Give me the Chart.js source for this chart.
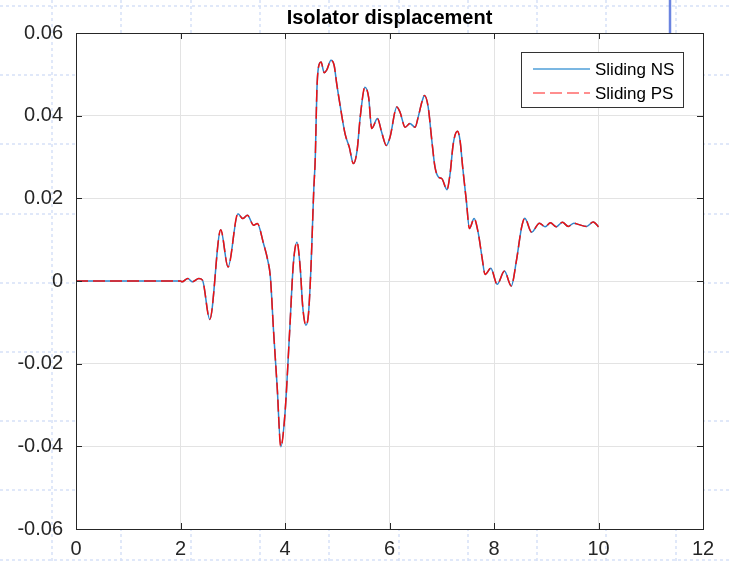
<!DOCTYPE html>
<html>
<head>
<meta charset="utf-8">
<script src="https://cdn.jsdelivr.net/npm/chart.js@4.4.1/dist/chart.umd.min.js"></script>
<style>
  html, body { margin: 0; padding: 0; background: #fff; }
  #wrap { position: relative; width: 731px; height: 563px; }
</style>
</head>
<body>
<div id="wrap"><canvas id="myChart" width="731" height="563"></canvas></div>
<script>
// time (s) and displacement
const time = [
  0, 0.5, 1, 1.5, 2, 2.03, 2.14, 2.23, 2.35, 2.42, 2.56, 2.77, 2.91, 3.1, 3.19, 3.28, 3.4, 3.47,
  3.59, 3.67, 3.72, 3.78, 3.85, 3.92, 4.0, 4.09, 4.16, 4.23, 4.29, 4.34, 4.4, 4.45, 4.5, 4.55,
  4.58, 4.61, 4.64, 4.69, 4.75, 4.8, 4.88, 4.94, 4.99, 5.06, 5.15, 5.23, 5.31, 5.38, 5.44, 5.53,
  5.6, 5.66, 5.77, 5.85, 5.94, 6.01, 6.14, 6.2, 6.3, 6.39, 6.49, 6.55, 6.62, 6.67, 6.74, 6.81,
  6.87, 6.94, 7.0, 7.1, 7.16, 7.22, 7.3, 7.35, 7.4, 7.47, 7.53, 7.62, 7.7, 7.77, 7.83, 7.94,
  8.06, 8.2, 8.33, 8.43, 8.53, 8.59, 8.72, 8.87, 8.98, 9.08, 9.19, 9.31, 9.42, 9.53, 9.61,
  9.77, 9.9, 10.0
];
const slidingNS = [
  0, 0, 0, 0, 0, -0.0002, 0.0006, -0.0002, 0.0006, 0.0002, -0.0093, 0.0124, 0.0034, 0.0163, 0.0151, 0.0159, 0.0135, 0.0139,
  0.009, 0.005, 0.001, -0.0119, -0.0256, -0.0401, -0.032, -0.0119, 0.0042, 0.0094, 0.0034, -0.0063, -0.0107, -0.0079, 0.0042, 0.0219,
  0.03, 0.0461, 0.0517, 0.053, 0.0504, 0.0511, 0.0534, 0.0522, 0.0477, 0.0421, 0.0356, 0.0324, 0.0284, 0.0316, 0.0397, 0.0469,
  0.0445, 0.0369, 0.0393, 0.036, 0.0328, 0.0348, 0.0421, 0.0409, 0.0372, 0.0381, 0.0372, 0.0397, 0.0433, 0.0449, 0.0421, 0.034,
  0.0276, 0.0251, 0.0248, 0.0221, 0.026, 0.0332, 0.0362, 0.034, 0.0276, 0.0195, 0.0127, 0.0151, 0.0115, 0.0058, 0.0016, 0.0031,
  -0.0008, 0.0024, -0.0012, 0.005, 0.0131, 0.0152, 0.0118, 0.014, 0.0131, 0.0141, 0.0131, 0.0142, 0.0132, 0.014, 0.0137,
  0.0132, 0.0143, 0.0131
];
// PS curve lies on top of NS everywhere in the picture
const slidingPS = [
  0, 0, 0, 0, 0, -0.0002, 0.0006, -0.0002, 0.0006, 0.0002, -0.0093, 0.0124, 0.0034, 0.0163, 0.0151, 0.0159, 0.0135, 0.0139,
  0.009, 0.005, 0.001, -0.0119, -0.0256, -0.0401, -0.032, -0.0119, 0.0042, 0.0094, 0.0034, -0.0063, -0.0107, -0.0079, 0.0042, 0.0219,
  0.03, 0.0461, 0.0517, 0.053, 0.0504, 0.0511, 0.0534, 0.0522, 0.0477, 0.0421, 0.0356, 0.0324, 0.0284, 0.0316, 0.0397, 0.0469,
  0.0445, 0.0369, 0.0393, 0.036, 0.0328, 0.0348, 0.0421, 0.0409, 0.0372, 0.0381, 0.0372, 0.0397, 0.0433, 0.0449, 0.0421, 0.034,
  0.0276, 0.0251, 0.0248, 0.0221, 0.026, 0.0332, 0.0362, 0.034, 0.0276, 0.0195, 0.0127, 0.0151, 0.0115, 0.0058, 0.0016, 0.0031,
  -0.0008, 0.0024, -0.0012, 0.005, 0.0131, 0.0152, 0.0118, 0.014, 0.0131, 0.0141, 0.0131, 0.0142, 0.0132, 0.014, 0.0137,
  0.0132, 0.0143, 0.0131
];
const seriesNames = ['Sliding NS', 'Sliding PS'];
const xTicks = [0, 2, 4, 6, 8, 10, 12];
const yTicks = [-0.06, -0.04, -0.02, 0, 0.02, 0.04, 0.06];

const FONT = '"Liberation Sans", Arial, sans-serif';
const TEXT = '#262626';

function toPoints(xs, ys) {
  return xs.map((x, i) => ({ x: x, y: ys[i] }));
}

// faint dotted screen grid that shows round the figure in the screenshot
const backdropPlugin = {
  id: 'backdrop',
  beforeDraw(chart) {
    const { ctx, width, height, chartArea: a } = chart;
    ctx.save();
    ctx.strokeStyle = '#d6e1f7';
    ctx.lineWidth = 1.5;
    ctx.setLineDash([3, 3]);
    ctx.beginPath();
    for (let x = 52; x < width; x += 69.3) {
      ctx.moveTo(Math.round(x), 0); ctx.lineTo(Math.round(x), height);
    }
    for (let y = 6; y < height; y += 69.2) {
      ctx.moveTo(0, Math.round(y)); ctx.lineTo(width, Math.round(y));
    }
    ctx.stroke();
    ctx.setLineDash([]);
    ctx.fillStyle = '#fff';
    ctx.fillRect(a.left, a.top, a.right - a.left, a.bottom - a.top);
    // solid blue marker line at the top right
    ctx.strokeStyle = '#6b84e0';
    ctx.lineWidth = 2.5;
    ctx.beginPath();
    ctx.moveTo(670, 0); ctx.lineTo(670, a.top);
    ctx.stroke();
    ctx.restore();
  }
};

// MATLAB style box: black frame with inward ticks on all four sides
const boxPlugin = {
  id: 'box',
  afterDatasetsDraw(chart) {
    const { ctx, chartArea: a, scales } = chart;
    ctx.save();
    ctx.strokeStyle = '#262626';
    ctx.lineWidth = 1;
    ctx.beginPath();
    xTicks.forEach(t => {
      const px = Math.round(scales.x.getPixelForValue(t)) + 0.5;
      ctx.moveTo(px, a.bottom); ctx.lineTo(px, a.bottom - 6);
      ctx.moveTo(px, a.top); ctx.lineTo(px, a.top + 6);
    });
    yTicks.forEach(t => {
      const py = Math.round(scales.y.getPixelForValue(t)) + 0.5;
      ctx.moveTo(a.left, py); ctx.lineTo(a.left + 6, py);
      ctx.moveTo(a.right, py); ctx.lineTo(a.right - 6, py);
    });
    ctx.stroke();
    ctx.strokeRect(Math.round(a.left) + 0.5, Math.round(a.top) + 0.5,
      Math.round(a.right - a.left), Math.round(a.bottom - a.top));
    ctx.restore();
  },
  afterDraw(chart) {
    // legend box in the upper right corner
    const { ctx, chartArea: a } = chart;
    const w = 162, h = 55;
    const x0 = a.right - 20 - w, y0 = a.top + 19;
    ctx.save();
    ctx.fillStyle = '#fff';
    ctx.fillRect(x0, y0, w, h);
    ctx.strokeStyle = '#333';
    ctx.lineWidth = 1;
    ctx.strokeRect(Math.round(x0) + 0.5, Math.round(y0) + 0.5, w, h);
    ctx.font = '17px ' + FONT;
    ctx.textBaseline = 'middle';
    chart.data.datasets.forEach((ds, i) => {
      const y = y0 + 17 + i * 24;
      ctx.strokeStyle = ds.legendColor;
      ctx.lineWidth = 1.5;
      ctx.setLineDash(ds.borderDash || []);
      ctx.beginPath();
      ctx.moveTo(x0 + 12, y); ctx.lineTo(x0 + 69, y);
      ctx.stroke();
      ctx.setLineDash([]);
      ctx.fillStyle = '#000';
      ctx.fillText(ds.label, x0 + 74, y + 1);
    });
    ctx.restore();
  }
};

const ctx = document.getElementById('myChart').getContext('2d');
const myChart = new Chart(ctx, {
  type: 'line',
  data: {
    datasets: [{
      label: seriesNames[0],
      data: toPoints(time, slidingNS),
      borderColor: '#2f86cc',
      legendColor: '#4f9fd9',
      borderWidth: 1.5,
      pointRadius: 0,
      order: 2,
      cubicInterpolationMode: 'monotone'
    }, {
      label: seriesNames[1],
      data: toPoints(time, slidingPS),
      borderColor: '#ee1111',
      legendColor: '#ff6a6a',
      borderWidth: 1.5,
      borderDash: [12, 5],
      pointRadius: 0,
      order: 1,
      cubicInterpolationMode: 'monotone'
    }]
  },
  options: {
    responsive: false,
    animation: false,
    layout: { padding: { left: 0, right: 28, top: 0, bottom: 0 } },
    plugins: {
      legend: { display: false },
      tooltip: { enabled: false },
      title: {
        display: true,
        fullSize: false,
        text: 'Isolator displacement',
        color: '#000',
        font: { family: FONT, size: 20, weight: 'bold' },
        padding: { top: 6, bottom: 3 }
      }
    },
    scales: {
      x: {
        type: 'linear',
        min: 0, max: 12,
        afterBuildTicks: s => { s.ticks = xTicks.map(v => ({ value: v })); },
        afterFit: s => { s.height = 34; },
        grid: { color: '#e3e3e3', drawTicks: false },
        border: { display: false },
        ticks: { color: TEXT, padding: 8, font: { family: FONT, size: 20 }, maxRotation: 0 }
      },
      y: {
        min: -0.06, max: 0.06,
        afterBuildTicks: s => { s.ticks = yTicks.map(v => ({ value: v })); },
        afterFit: s => { s.width = 76; },
        grid: { color: '#e3e3e3', drawTicks: false },
        border: { display: false },
        ticks: {
          color: TEXT, padding: 13, font: { family: FONT, size: 20 },
          callback: v => Math.abs(v) < 1e-9 ? '0' : v.toFixed(2)
        }
      }
    }
  },
  plugins: [backdropPlugin, boxPlugin]
});
</script>
</body>
</html>
